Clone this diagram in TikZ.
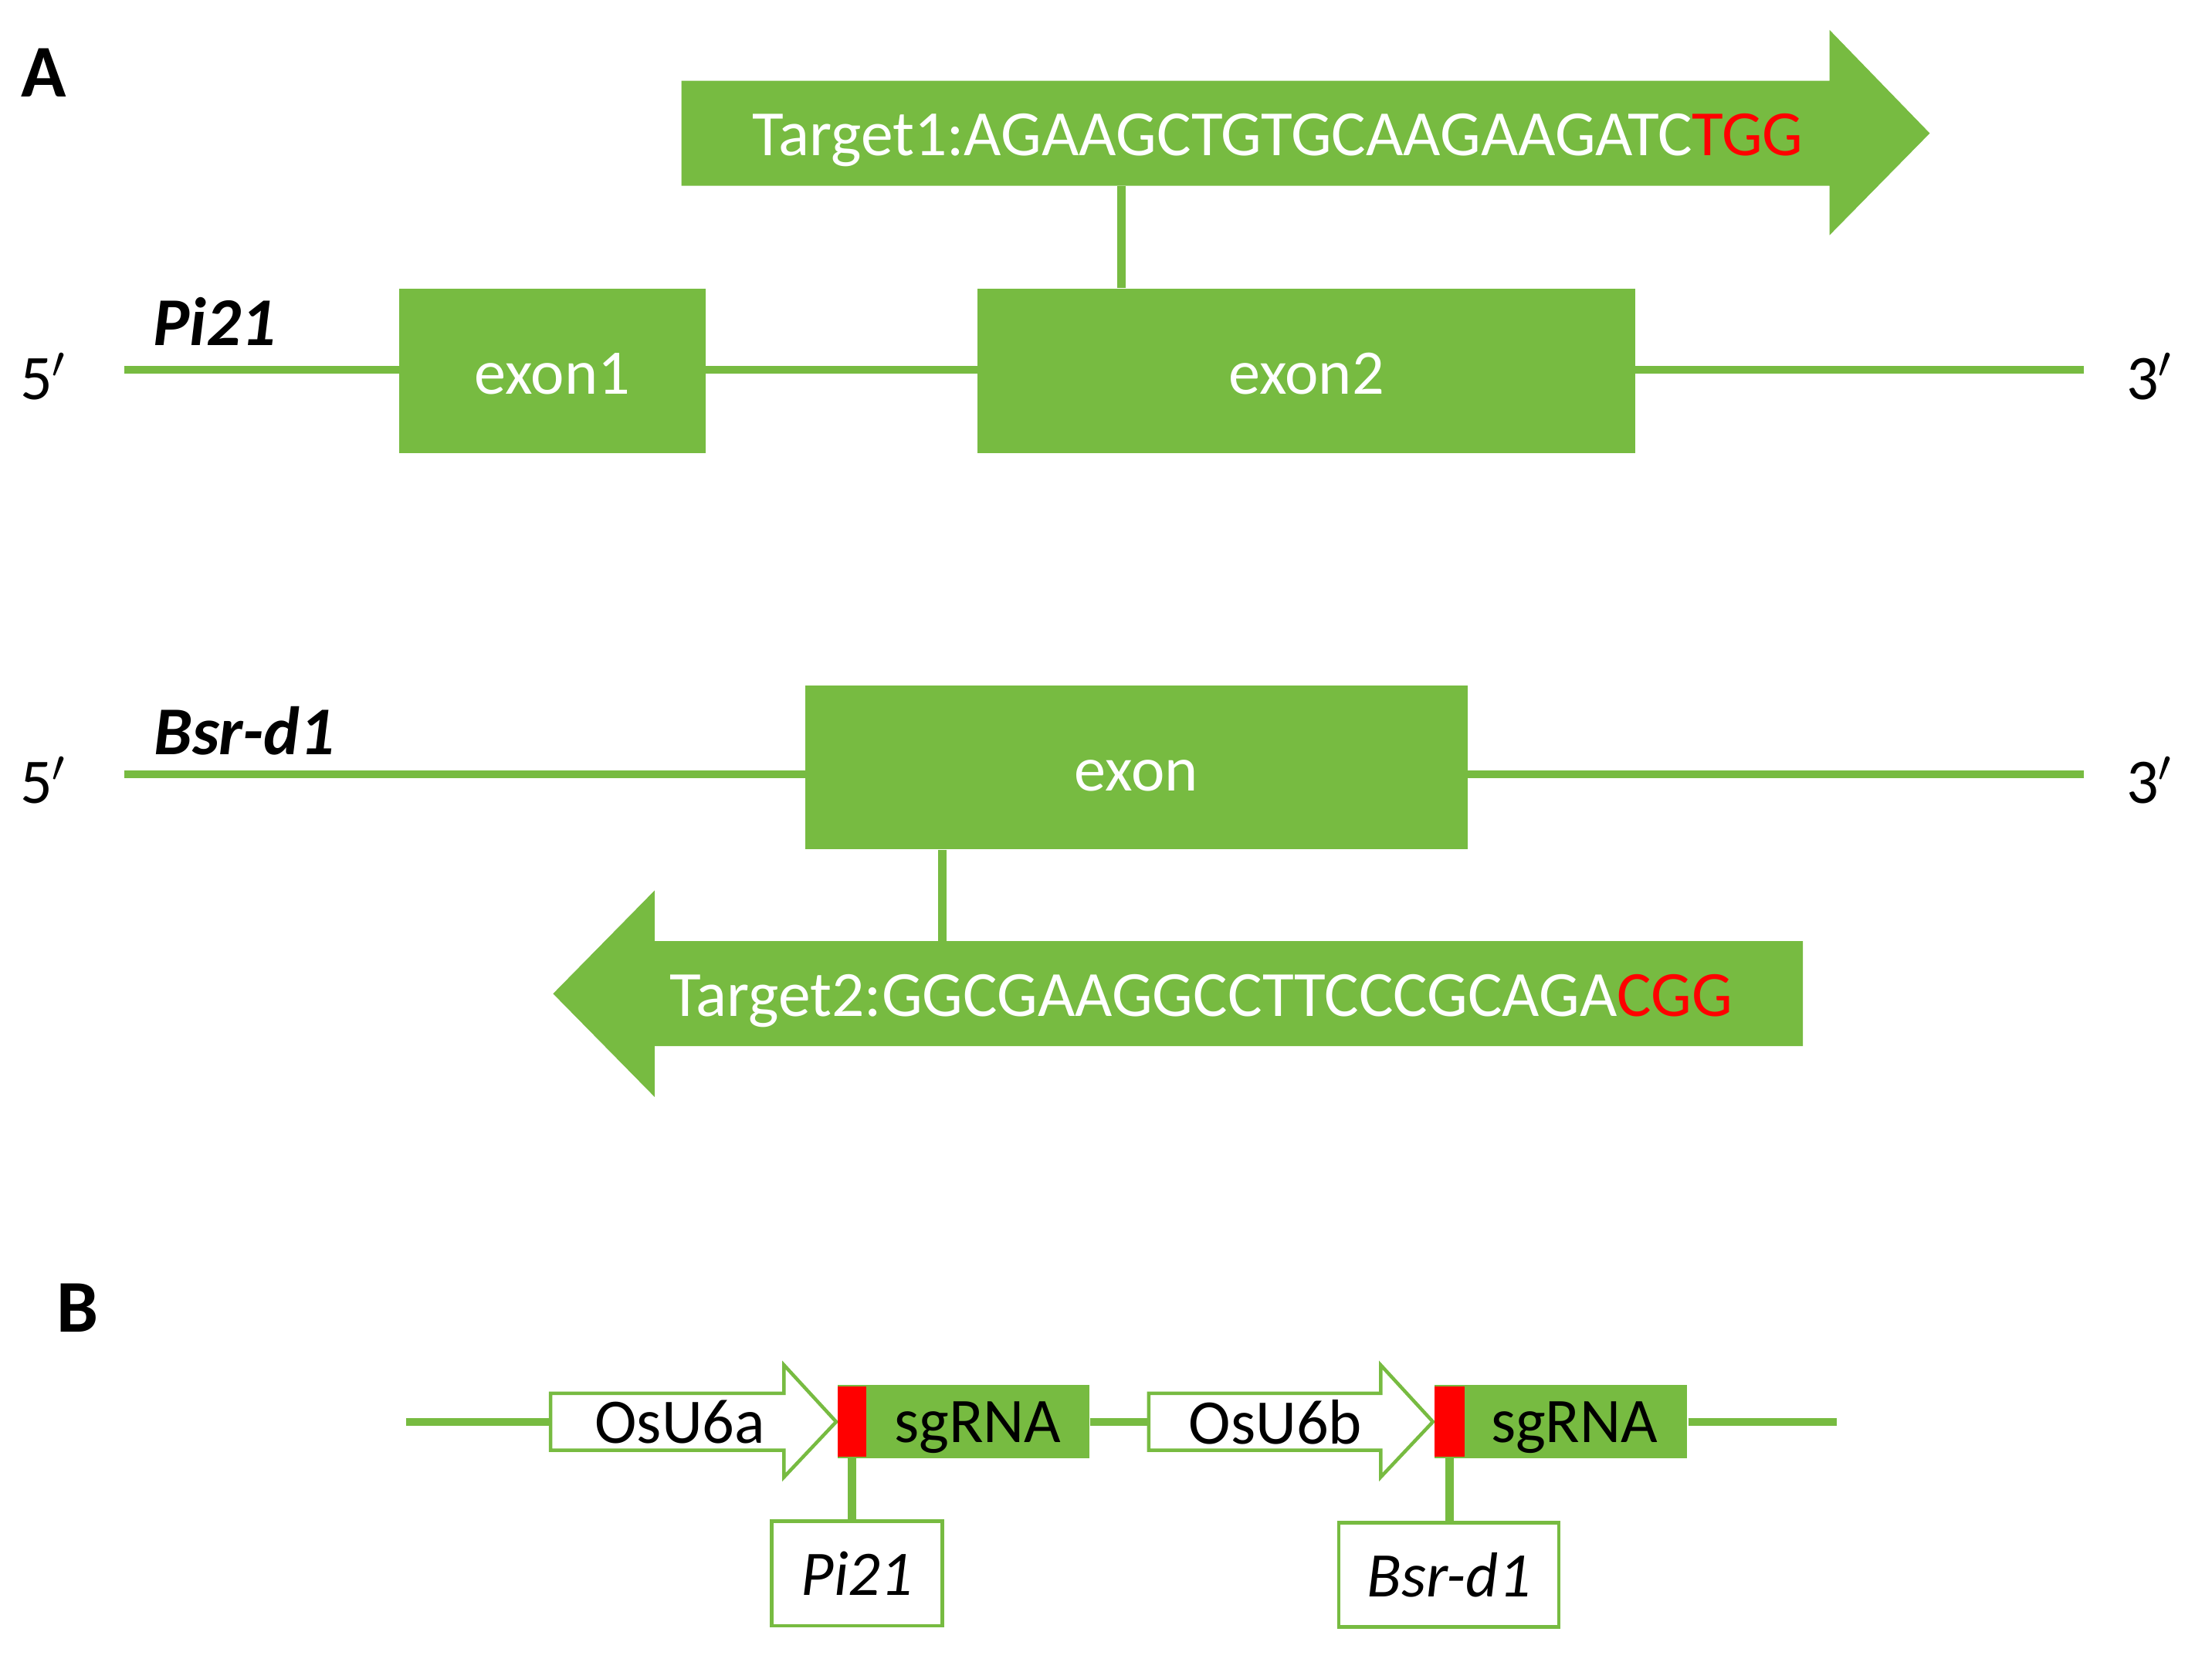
\documentclass[tikz,border=0pt]{standalone}
\usepackage{fontspec}
\setmainfont{Carlito}
\usetikzlibrary{calc}
\definecolor{genegreen}{RGB}{119,187,65}

\begin{document}
\begin{tikzpicture}[x=0.01cm,y=-0.01cm,
  gline/.style={draw=genegreen,line width=1.6pt},
  exonbox/.style={rectangle,fill=genegreen,text=white,inner sep=0pt,minimum height=1.16cm,text height=9.4pt,text depth=0pt,font=\fontsize{12.8}{15}\selectfont},
  seqbody/.style={rectangle,inner sep=0pt,minimum width=8.12cm,minimum height=0.73cm},
  seqtext/.style={inner sep=0pt,text=white,font=\fontsize{13}{15}\selectfont},
  endlabel/.style={inner sep=0pt,font=\fontsize{12.8}{15}\selectfont},
  genename/.style={inner sep=0pt,font=\fontsize{13.8}{16}\selectfont\bfseries\itshape},
  panel/.style={inner sep=0pt,font=\fontsize{15}{18}\selectfont\bfseries},
  promoter/.style={rectangle,inner sep=0pt,minimum height=0.39cm,font=\fontsize{12.8}{15}\selectfont},
  promline/.style={draw=genegreen,line width=0.7pt},
  sgbox/.style={rectangle,fill=genegreen,inner sep=0pt,minimum height=0.52cm,text depth=0pt,font=\fontsize{12.8}{15}\selectfont},
  spacer/.style={rectangle,fill=red,inner sep=0pt,minimum height=0.5cm},
  targetbox/.style={rectangle,draw=genegreen,line width=0.7pt,inner sep=0pt,minimum height=0.74cm,font=\fontsize{12.8}{15}\selectfont\itshape}]

\useasboundingbox (0,0) rectangle (1568,1183);

% panel A
\node[panel] (A) at (31,51.5) {A};

% Pi21
\coordinate (pi5) at (88,262);
\coordinate (pi3) at (1477,262);
\draw[gline] (pi5) -- (pi3);
\node[exonbox,minimum width=2.17cm] (exon1) at (391.5,263) {exon1};
\node[exonbox,minimum width=4.66cm] (exon2) at (926,263) {exon2};
\node[endlabel] (pi5lab) at (31,267) {5$'$};
\node[endlabel] (pi3lab) at (1524,267) {3$'$};
\node[genename] (pi21) at (152,228) {Pi21};

% target 1
\node[seqbody] (t1) at (890,94.5) {};
\fill[genegreen] (t1.north west) -- (t1.north east) -- ++(0,-36) -- ($(t1.east)+(71,0)$)
  -- ($(t1.south east)+(0,35)$) -- (t1.south east) -- (t1.south west) -- cycle;
\node[seqtext,anchor=base east] (t1seq) at ($(t1.east)+(-18,16)$) {Target1:AGAAGCTGTGCAAGAAGATC\textcolor{red}{TGG}};
\coordinate (c1) at (795,131);
\draw[gline] (c1 |- t1.south) -- (c1 |- exon2.north);

% Bsr-d1
\coordinate (bs5) at (88,549);
\coordinate (bs3) at (1477,549);
\draw[gline] (bs5) -- (bs3);
\node[exonbox,minimum width=4.69cm] (exon) at (805.5,544) {exon};
\node[endlabel] (bs5lab) at (31,553) {5$'$};
\node[endlabel] (bs3lab) at (1524,553) {3$'$};
\node[genename] (bsr) at (173,518) {Bsr-d1};

% target 2
\node[seqbody] (t2) at (871,704.5) {};
\fill[genegreen] (t2.north east) -- (t2.north west) -- ++(0,-36) -- ($(t2.west)+(-72,0)$)
  -- ($(t2.south west)+(0,36)$) -- (t2.south west) -- (t2.south east) -- cycle;
\node[seqtext,anchor=base west] (t2seq) at ($(t2.west)+(10,16)$) {Target2:GGCGAAGGCCTTCCCGCAGA\textcolor{red}{CGG}};
\coordinate (c2) at (668,602);
\draw[gline] (c2 |- exon.south) -- (c2 |- t2.north);

% panel B
\node[panel] (B) at (55,927.5) {B};

\node[promoter,minimum width=1.64cm] (u6a) at (473,1008) {\hspace*{0.18cm}OsU6a};
\draw[promline] (u6a.north west) -- (u6a.north east) -- ++(0,-20) -- ($(u6a.east)+(37,0)$)
  -- ($(u6a.south east)+(0,19)$) -- (u6a.south east) -- (u6a.south west) -- cycle;
\node[sgbox,minimum width=1.78cm] (sg1) at (683,1008) {\hspace*{0.2cm}sgRNA};
\node[spacer,minimum width=0.2cm] (r1) at (604,1008) {};

\node[promoter,minimum width=1.63cm] (u6b) at (896.5,1008) {\hspace*{0.15cm}OsU6b};
\draw[promline] (u6b.north west) -- (u6b.north east) -- ++(0,-20) -- ($(u6b.east)+(37,0)$)
  -- ($(u6b.south east)+(0,19)$) -- (u6b.south east) -- (u6b.south west) -- cycle;
\node[sgbox,minimum width=1.79cm] (sg2) at (1106.5,1008) {\hspace*{0.19cm}sgRNA};
\node[spacer,minimum width=0.21cm] (r2) at (1027.5,1008) {};

\coordinate (b5) at (288,1008);
\coordinate (b3) at (1302,1008);
\draw[gline] (b5) -- (u6a.west);
\draw[gline] (sg1.east) -- (u6b.west);
\draw[gline] (sg2.east) -- (b3);

\node[targetbox,minimum width=1.21cm] (pi21box) at (607.5,1115.5) {Pi21};
\node[targetbox,minimum width=1.56cm] (bsrbox) at (1027,1116.5) {Bsr-d1};
\draw[gline] (r1.south) -- (r1.south |- pi21box.north);
\draw[gline] (r2.south) -- (r2.south |- bsrbox.north);
\end{tikzpicture}
\end{document}
